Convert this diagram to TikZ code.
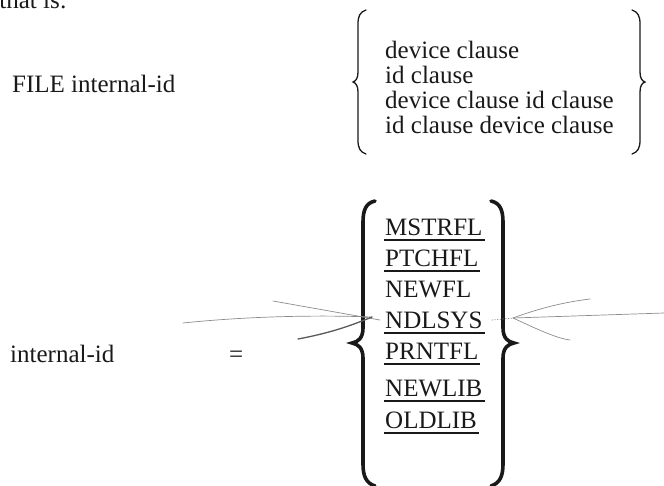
\documentclass[tikz,border=0pt]{standalone}
\usepackage{fontspec}
\setmainfont{Liberation Serif}
\usepackage{tikz}
\tikzset{>=latex}
\usepackage{xcolor}
\colorlet{pencil}{black!45}
\colorlet{ink}{black!90}

\tikzset{
    word/.style={inner sep=0pt, anchor=base west, font=\fontsize{25}{25}\selectfont, text=ink},
    uline/.style={ink, line width=2.4pt},
    thinbrace/.style={ink, line width=1.3pt, line cap=round},
    fatbrace/.style={ink, line width=3.6pt, line cap=round},
    pencilline/.style={pencil, line width=0.7pt, line cap=round}
}

\begin{document}
\begin{tikzpicture}[x=1pt, y=-1pt]
    \useasboundingbox (0, 0) rectangle (664, 485);
    \clip (0, 0) rectangle (664, 485);
    \begin{scope}

        % cut off line at the top of the page
        \node[word, anchor=base east] (head) at (67, 8) {that is:};

        % first form
        \node[word] (file) at (12, 92) {FILE internal-id};
        \node[word] (c1) at (385, 58) {device clause};
        \node[word] (c2) at (385, 83) {id clause};
        \node[word] (c3) at (385, 108) {device clause id clause};
        \node[word] (c4) at (385, 133) {id clause device clause};

        \draw[thinbrace] (366, 10) .. controls (360, 12) and (358, 16) .. (358, 24) -- (358, 72)
            .. controls (358, 78) and (356, 81) .. (353, 82) .. controls (356, 83) and (358, 86) .. (358, 92)
            -- (358, 140) .. controls (358, 148) and (360, 152) .. (366, 154);
        \draw[thinbrace] (632, 10) .. controls (638, 12) and (640, 16) .. (640, 24) -- (640, 72)
            .. controls (640, 78) and (642, 81) .. (645, 82) .. controls (642, 83) and (640, 86) .. (640, 92)
            -- (640, 140) .. controls (640, 148) and (638, 152) .. (632, 154);

        % second form
        \node[word] (iid) at (10, 362) {internal-id};
        \node[word] (eq) at (229, 362) {=};

        \node[word] (m1) at (385, 235) {MSTRFL};
        \node[word] (m2) at (385, 266) {PTCHFL};
        \node[word] (m3) at (385, 297) {NEWFL};
        \node[word] (m4) at (385, 328) {NDLSYS};
        \node[word] (m5) at (385, 359) {PRNTFL};
        \node[word] (m6) at (385, 396) {NEWLIB};
        \node[word] (m7) at (385, 428) {OLDLIB};

        \foreach \m in {m1, m2, m4, m5, m6, m7}
        {
            \draw[uline] ([xshift=-1pt, yshift=-5pt]\m.base west) -- ([xshift=2pt, yshift=-5pt]\m.base east);
        }

        \draw[fatbrace] (375, 201) .. controls (366, 203) and (363, 210) .. (363, 222) -- (363, 328)
            .. controls (363, 338) and (358, 342) .. (352, 343) .. controls (358, 344) and (363, 348) .. (363, 358)
            -- (363, 464) .. controls (363, 476) and (366, 483) .. (375, 486);
        \draw[fatbrace] (491, 201) .. controls (500, 203) and (503, 210) .. (503, 222) -- (503, 328)
            .. controls (503, 338) and (508, 342) .. (514, 343) .. controls (508, 344) and (503, 348) .. (503, 358)
            -- (503, 464) .. controls (503, 476) and (500, 483) .. (491, 486);

        % pencil marks pointing at NDLSYS
        \coordinate (lhit) at (372, 317);
        \coordinate (rhit) at (513, 318);
        \draw[pencilline] (183, 323) .. controls (250, 316) and (320, 315) .. (lhit);
        \draw[pencilline] (273, 301) -- (380, 320);
        \draw[pencilline, black!65, line width=1.3pt] (298, 339) .. controls (330, 333) and (350, 326) .. (lhit);
        \draw[pencilline, dotted] (492, 320) -- (rhit);
        \draw[pencilline] (rhit) .. controls (540, 308) and (565, 302) .. (590, 299);
        \draw[pencilline] (rhit) -- (664, 313);
        \draw[pencilline] (rhit) .. controls (535, 328) and (555, 338) .. (570, 340);

    \end{scope}
\end{tikzpicture}
\end{document}
